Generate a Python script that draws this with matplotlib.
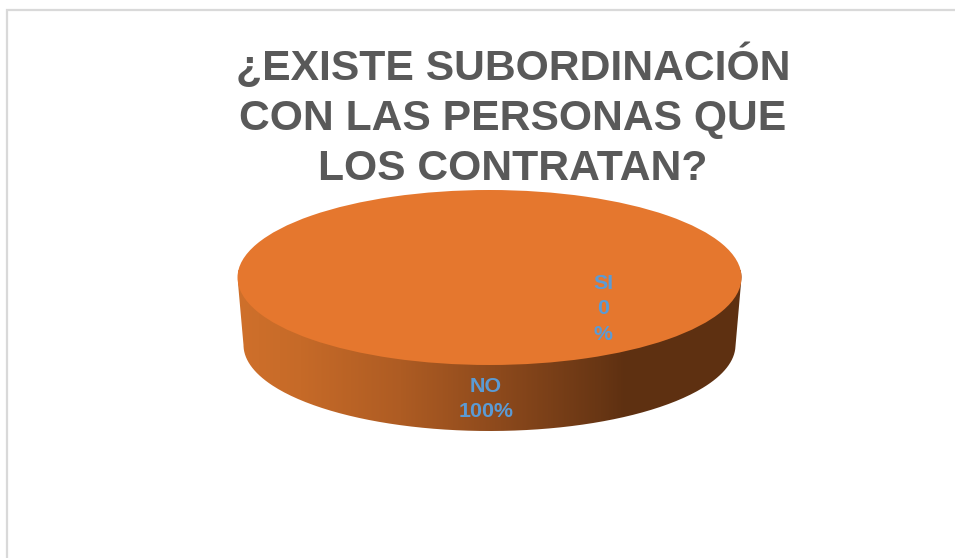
import numpy as np
import matplotlib
matplotlib.use("Agg")
import matplotlib.pyplot as plt
from matplotlib.patches import Rectangle, PathPatch
from matplotlib.path import Path

categories = ["SI", "NO"]
values = [0, 100]
title = "¿EXISTE SUBORDINACIÓN\nCON LAS PERSONAS QUE\nLOS CONTRATAN?"

W, H = 955, 558
orange = "#E5772E"
blue = "#5B9BD5"

# top ellipse and bottom ellipse of the disc, in pixels
cx, cy, rx, ry = 489.5, 277.5, 252, 87.5
bcx, bcy, brx, bry = 489.5, 345, 246, 86

plt.rcParams['font.family'] = ['Liberation Sans', 'DejaVu Sans']
fig = plt.figure(figsize=(W / 100, H / 100), dpi=100)
bg = fig.add_axes([0, 0, 1, 1])
bg.set_xlim(0, W)
bg.set_ylim(H, 0)
bg.axis("off")

# chart frame, cropped at right and bottom
bg.add_patch(Rectangle((7, 10), W + 20, H + 20, fc="white", ec="#D9D9D9", lw=1.6))

# side of the disc: gradient clipped to the hull of the two ellipses
t = np.linspace(0, np.pi, 200)
top_x = cx - rx * np.cos(t)
top_y = cy - ry * np.sin(t)
bot_x = bcx + brx * np.cos(t)
bot_y = bcy + bry * np.sin(t)
pts = np.vstack([np.column_stack([top_x, top_y]), np.column_stack([bot_x, bot_y])])
pts = np.vstack([pts, pts[0]])
side = PathPatch(Path(pts), fc="none", ec="none")
bg.add_patch(side)

stops_x = [238, 300, 400, 500, 600, 625, 745]
stops = np.array([(0xCF, 0x70, 0x2B), (0xC6, 0x6A, 0x28), (0xAE, 0x5C, 0x23),
                  (0x8C, 0x49, 0x1C), (0x68, 0x36, 0x14), (0x5E, 0x30, 0x11), (0x5E, 0x30, 0x11)]) / 255
xs = np.arange(238, 746)
grad = np.stack([np.interp(xs, stops_x, stops[:, i]) for i in range(3)], axis=1)[None, :, :]
im = bg.imshow(grad, extent=(238, 745, 435, 270), aspect="auto", zorder=2)
im.set_clip_path(side)
bg.set_xlim(0, W)
bg.set_ylim(H, 0)

# top face of the disc
pie_ax = fig.add_axes([(cx - rx) / W, 1 - (cy + ry) / H, 2 * rx / W, 2 * ry / H])
pie_ax.pie(values, colors=["#4472C4", orange], startangle=90, radius=1)
pie_ax.set_aspect("auto")
pie_ax.set_xlim(-1, 1)
pie_ax.set_ylim(-1, 1)
pie_ax.patch.set_alpha(0)

# texts on top of everything
fg = fig.add_axes([0, 0, 1, 1])
fg.set_xlim(0, W)
fg.set_ylim(H, 0)
fg.axis("off")
fg.text(513, 116, title, ha="center", va="center", color="#595959",
        fontsize=30.7, fontweight="bold", linespacing=1.33)
fg.text(486, 399, categories[1] + "\n" + str(values[1]) + "%", ha="center", va="center",
        color=blue, fontsize=15.4, fontweight="bold", linespacing=1.41)
fg.text(603, 309, categories[0] + "\n" + str(values[0]) + "\n%", ha="center", va="center",
        color=blue, fontsize=15.4, fontweight="bold", linespacing=1.45)

fig.savefig("out.png", dpi=100)
